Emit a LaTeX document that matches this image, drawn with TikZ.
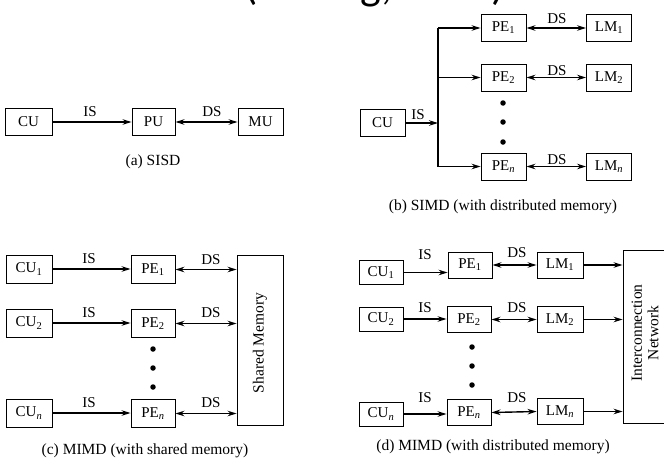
\documentclass[tikz,border=0pt]{standalone}
\usepackage{fontspec}
\setmainfont{Liberation Serif}
\newfontfamily\headfont{Carlito}
\usetikzlibrary{arrows.meta}
\newcommand{\sbn}{\textsubscript{\textit{n}}}
\begin{document}
\begin{tikzpicture}[x=1pt,y=-1pt,
  blk/.style={draw, line width=0.9pt, inner sep=0pt, minimum width=45pt, minimum height=27pt, font=\fontsize{15}{18}\selectfont},
  arr/.style={line width=1.4pt, -{Stealth[length=9pt,width=5.5pt]}},
  darr/.style={line width=1.4pt, {Stealth[length=9pt,width=5.5pt]}-{Stealth[length=9pt,width=5.5pt]}},
  bus/.style={line width=1.4pt},
  lbl/.style={font=\fontsize{15}{18}\selectfont, inner sep=0pt},
  captxt/.style={font=\fontsize{15.5}{18}\selectfont, inner sep=0pt},
  dot/.style={circle, fill, inner sep=0pt, minimum size=5.5pt},
]
\useasboundingbox (0,0) rectangle (664,458);
\clip (0,0) rectangle (664,458);
\fill[white] (0,0) rectangle (664,458);

% cropped header: only its descenders reach into the picture
\node[anchor=base west, font=\headfont\fontsize{44}{44}\selectfont, inner sep=0pt] (hdr) at (244pt,1pt) {(Hwang, 1993)};

% ---------- (a) SISD
\node[blk, minimum width=47pt] (aCU) at (28.5,122) {CU};
\node[blk, minimum width=43pt] (aPU) at (153.5,122) {PU};
\node[blk] (aMU) at (260.5,122) {MU};
\draw[arr] (aCU.east) -- (aCU.east -| aPU.west);
\draw[darr] (aPU.east) -- (aPU.east -| aMU.west);
\node[lbl] (aIS) at (90,112) {IS};
\node[lbl] (aDS) at (212,112) {DS};
\node[captxt] (acap) at (153,162) {(a) SISD};

% ---------- (b) SIMD
\node[blk] (bCU) at (382.5,123) {CU};
\coordinate (bmid) at (438,123);
\node[blk] (bPE1) at (503.5,28) {PE\textsubscript{1}};
\node[blk] (bPE2) at (503.5,77.5) {PE\textsubscript{2}};
\node[blk] (bPEn) at (503.5,166.5) {PE\sbn};
\node[blk] (bLM1) at (609,28) {LM\textsubscript{1}};
\node[blk] (bLM2) at (609,77.5) {LM\textsubscript{2}};
\node[blk] (bLMn) at (609,166.5) {LM\sbn};
\coordinate (btop) at (bPE1.west -| bmid);
\coordinate (b2) at (bPE2.west -| bmid);
\coordinate (bbot) at (bPEn.west -| bmid);
\draw[bus] (btop) -- (bbot);
\draw[arr] (bCU.east) -- (bmid);
\draw[arr] (btop) -- (bPE1.west);
\draw[arr] (b2) -- (bPE2.west);
\draw[arr] (bbot) -- (bPEn.west);
\draw[darr] (bPE1.east) -- (bLM1.west);
\draw[darr] (bPE2.east) -- (bLM2.west);
\draw[darr] (bPEn.east) -- (bLMn.west);
\node[lbl] (bIS) at (418,115) {IS};
\node[lbl] (bDS1) at (557,19) {DS};
\node[lbl] (bDS2) at (557,71) {DS};
\node[lbl] (bDSn) at (557,160) {DS};
\node[dot] (bd1) at (503,103) {};
\node[dot] (bd2) at (503,122) {};
\node[dot] (bd3) at (503,142) {};
\node[captxt] (bcap) at (503,207) {(b) SIMD (with distributed memory)};

% ---------- (c) MIMD shared memory
\node[blk, minimum width=46pt, minimum height=28pt] (cCU1) at (29,269) {CU\textsubscript{1}};
\node[blk, minimum width=44pt, minimum height=28pt] (cPE1) at (153,269.5) {PE\textsubscript{1}};
\node[blk, minimum width=46pt, minimum height=28pt] (cCU2) at (29,323) {CU\textsubscript{2}};
\node[blk, minimum width=44pt, minimum height=28pt] (cPE2) at (153,323.5) {PE\textsubscript{2}};
\node[blk, minimum width=46pt, minimum height=28pt] (cCUn) at (29,413) {CU\sbn};
\node[blk, minimum width=44pt, minimum height=28pt] (cPEn) at (153,413.5) {PE\sbn};
\node[draw, line width=0.9pt, minimum width=46pt, minimum height=170pt, inner sep=0pt] (cSM) at (260,340) {};
\node[rotate=90, font=\fontsize{15.5}{18}\selectfont, inner sep=0pt] (cSMt) at (260,343) {Shared Memory};
\draw[arr] (cCU1.east) -- (cCU1.east -| cPE1.west);
\draw[arr] (cCU2.east) -- (cCU2.east -| cPE2.west);
\draw[arr] (cCUn.east) -- (cCUn.east -| cPEn.west);
\draw[darr] (cPE1.east) -- (cPE1.east -| cSM.west);
\draw[darr] (cPE2.east) -- (cPE2.east -| cSM.west);
\draw[darr] (cPEn.east) -- (cPEn.east -| cSM.west);
\node[lbl] (cIS1) at (89,259) {IS};
\node[lbl] (cIS2) at (89,313) {IS};
\node[lbl] (cISn) at (89,403) {IS};
\node[lbl] (cDS1) at (211,260) {DS};
\node[lbl] (cDS2) at (211,313) {DS};
\node[lbl] (cDSn) at (211,403) {DS};
\node[dot] (cd1) at (153,349) {};
\node[dot] (cd2) at (153,368) {};
\node[dot] (cd3) at (153,387) {};
\node[captxt] (ccap) at (145,451) {(c) MIMD (with shared memory)};

% ---------- (d) MIMD distributed memory
\node[blk, minimum width=44pt, minimum height=24pt] (dCU1) at (381,272.5) {CU\textsubscript{1}};
\node[blk, minimum width=44pt, minimum height=26pt] (dPE1) at (470,265) {PE\textsubscript{1}};
\node[blk, minimum width=46pt, minimum height=26pt] (dLM1) at (560,265) {LM\textsubscript{1}};
\node[blk, minimum width=44pt, minimum height=24pt] (dCU2) at (381,319) {CU\textsubscript{2}};
\node[blk, minimum width=44pt, minimum height=26pt] (dPE2) at (469,319.5) {PE\textsubscript{2}};
\node[blk, minimum width=46pt, minimum height=26pt] (dLM2) at (560,319.5) {LM\textsubscript{2}};
\node[blk, minimum width=44pt, minimum height=24pt] (dCUn) at (381,414) {CU\sbn};
\node[blk, minimum width=44pt, minimum height=26pt] (dPEn) at (469,412.5) {PE\sbn};
\node[blk, minimum width=46pt, minimum height=26pt] (dLMn) at (560,411.5) {LM\sbn};
\node[draw, line width=0.9pt, minimum width=57pt, minimum height=173pt, inner sep=0pt] (dIN) at (651.5,336.5) {};
\node[rotate=90, align=center, font=\fontsize{15.5}{16.5}\selectfont, inner sep=0pt] (dINt) at (645,333) {Interconnection\\Network};
\draw[arr] (dCU1.east) -- (dCU1.east -| dPE1.west);
\draw[arr] (dCU2.east) -- (dCU2.east -| dPE2.west);
\draw[arr] (dCUn.east) -- (dCUn.east -| dPEn.west);
\draw[darr] (dPE1.east) -- (dLM1.west);
\draw[darr] (dPE2.east) -- (dLM2.west);
\draw[darr] (dPEn.east) -- (dLMn.west);
\draw[arr] (dLM1.east) -- (dLM1.east -| dIN.west);
\draw[arr] (dLM2.east) -- (dLM2.east -| dIN.west);
\draw[arr] (dLMn.east) -- (dLMn.east -| dIN.west);
\node[lbl] (dIS1) at (425,255) {IS};
\node[lbl] (dIS2) at (425,308) {IS};
\node[lbl] (dISn) at (425,398) {IS};
\node[lbl] (dDS1) at (517,253) {DS};
\node[lbl] (dDS2) at (517,308) {DS};
\node[lbl] (dDSn) at (517,398) {DS};
\node[dot] (dd1) at (472,347) {};
\node[dot] (dd2) at (472,366) {};
\node[dot] (dd3) at (472,385) {};
\node[captxt] (dcap) at (493,447) {(d) MIMD (with distributed memory)};
\end{tikzpicture}
\end{document}
